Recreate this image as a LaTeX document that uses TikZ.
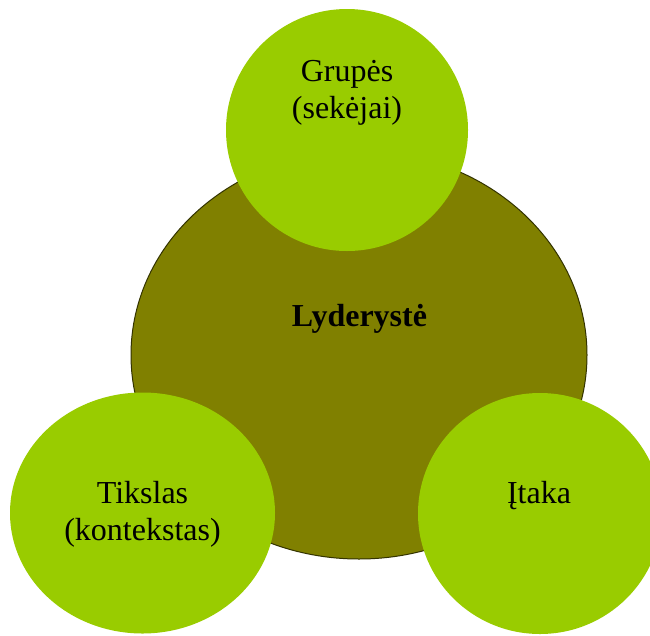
\documentclass[tikz,border=0pt]{standalone}
\usepackage{fontspec}
\setmainfont{Liberation Serif}
\usetikzlibrary{shapes.geometric}
\definecolor{olivefill}{HTML}{808000}
\definecolor{olivedraw}{HTML}{333300}
\definecolor{limefill}{HTML}{99CC00}
\begin{document}
\begin{tikzpicture}[x=1pt,y=-1pt,
  core/.style={ellipse,fill=olivefill,draw=olivedraw,line width=1pt,inner sep=0pt},
  blob/.style={ellipse,fill=limefill,draw=none,inner sep=0pt},
  txt/.style={font=\fontsize{32}{37}\selectfont,align=center,inner sep=0pt,anchor=base}]
\useasboundingbox (0,0) rectangle (650,635);
\node[core,minimum width=456pt,minimum height=408pt] (core) at (359,355) {};
\node[blob,minimum width=242pt,minimum height=242pt] (top) at (347,130) {};
\node[blob,minimum width=265pt,minimum height=241pt] (left) at (142.5,513) {};
\node[blob,minimum width=244pt,minimum height=241pt] (right) at (540,513.5) {};
\node[txt,font=\fontsize{32}{37}\selectfont\bfseries] (coretext) at (359.5,326) {Lyderystė};
\node[txt] (toptext) at (347,118) {Grupės\\(sekėjai)};
\node[txt] (lefttext) at (142.5,540) {Tikslas\\(kontekstas)};
\node[txt] (righttext) at (539,503) {Įtaka};
\end{tikzpicture}
\end{document}
